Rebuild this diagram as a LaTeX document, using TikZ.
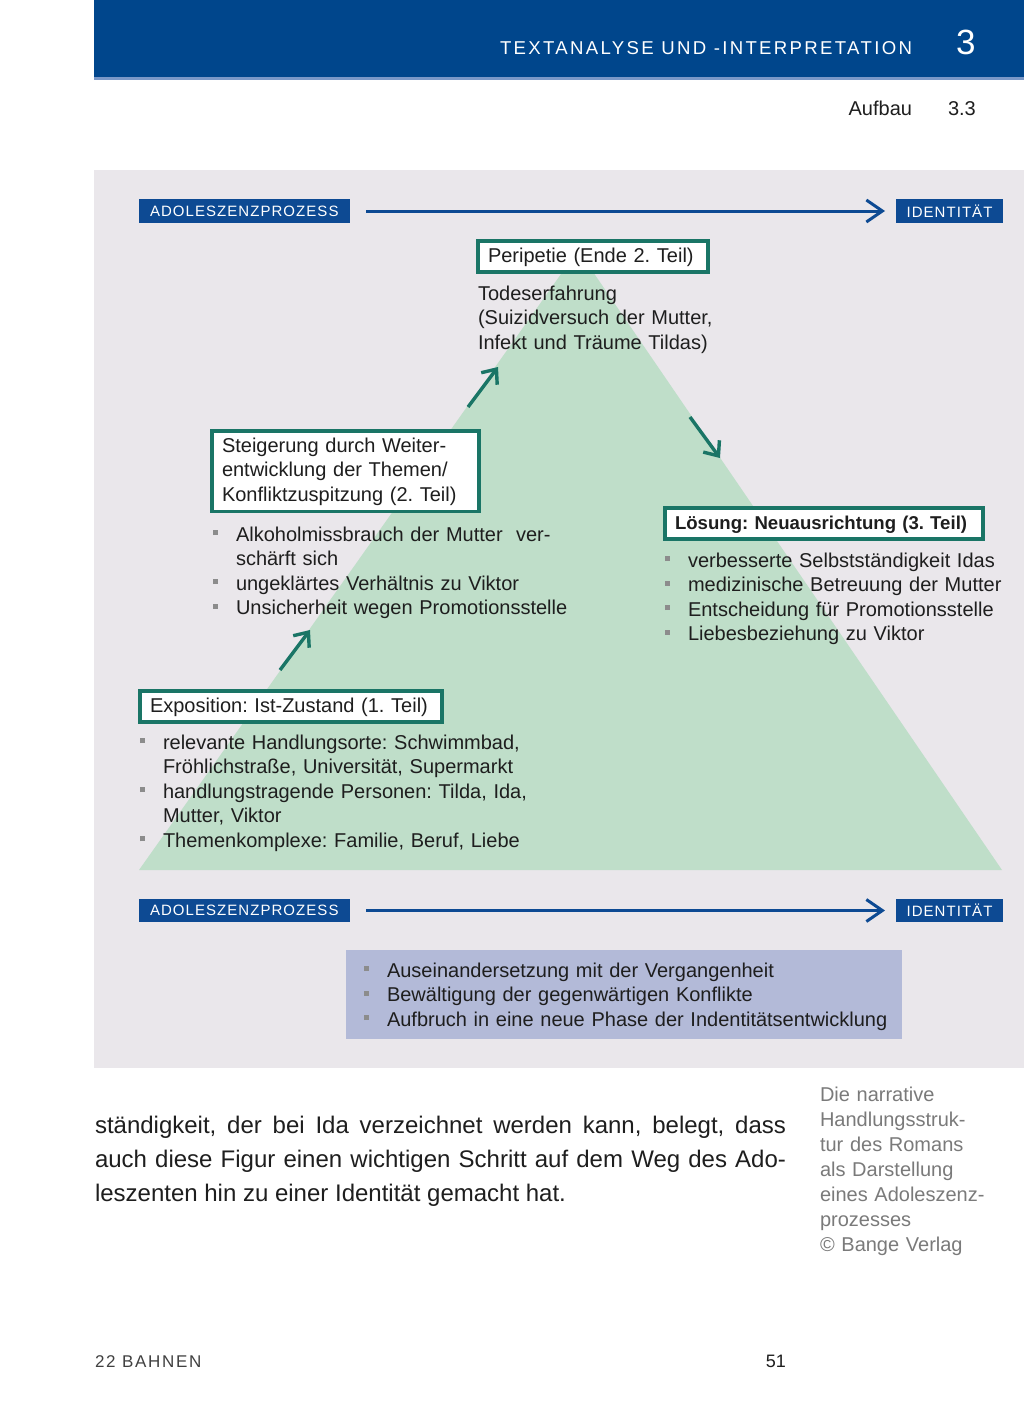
\documentclass[tikz,border=0pt]{standalone}
\usepackage{fontspec}
\setmainfont{Liberation Sans}
\usetikzlibrary{positioning,arrows.meta}
\frenchspacing

\definecolor{headblue}{HTML}{00468C}
\definecolor{headline}{HTML}{7A98C8}
\definecolor{labelblue}{HTML}{0D4A93}
\definecolor{panelgray}{HTML}{EAE7EB}
\definecolor{trigreen}{HTML}{BFDEC9}
\definecolor{stageteal}{HTML}{1A7566}
\definecolor{sumlilac}{HTML}{B3BAD8}
\definecolor{bulgray}{HTML}{8C8C8C}
\definecolor{sidegray}{HTML}{7A7A7A}
\definecolor{inkblack}{HTML}{1E1E1E}

\newcommand{\bul}{\makebox[11.5pt][l]{\textcolor{bulgray}{\rule[3pt]{2.5pt}{2.5pt}}}}
\newcommand{\cnt}{\hspace*{11.5pt}}
\newcommand{\dgmfont}{\fontsize{10}{12.3}\selectfont}

\tikzset{
    stagebox/.style={rectangle, draw=stageteal, fill=white, line width=1.6pt, inner xsep=5pt, inner ysep=3pt, text height=7.5pt, text depth=2pt, align=left, font=\dgmfont, text=inkblack},
    listtext/.style={text width=#1, align=left, font=\dgmfont, text=inkblack},
    listtext/.default=280pt,
    tagbox/.style={rectangle, fill=labelblue, text=white, minimum height=11.75pt, font=\fontsize{7.5}{9}\selectfont\addfontfeature{LetterSpace=7}},
    flowline/.style={draw=labelblue, line width=1.5pt, -{Straight Barb[length=8pt,width=11pt]}},
    stagearrow/.style={draw=stageteal, line width=1.7pt, -{Straight Barb[length=6pt,width=10pt]}}
}

\begin{document}
\begin{tikzpicture}[x=0.5pt, y=-0.5pt, every node/.style={inner sep=0pt, outer sep=0pt}]
    \useasboundingbox (0,0) rectangle (1024,1418);
    \fill[white] (0,0) rectangle (1024,1418);

    % page head
    \fill[headblue] (94,0) rectangle (1024,77);
    \draw[headline, line width=1.5pt] (94,78.5) -- (1024,78.5);
    \node[anchor=base east, text=white, font=\fontsize{9.3}{11}\selectfont\addfontfeature{LetterSpace=12.5}] (hdtitle) at (912,55) {TEXTANALYSE UND -INTERPRETATION};
    \node[base right=22pt of hdtitle, text=white, font=\fontsize{17.5}{20}\selectfont] (hdnum) {3};
    \node[anchor=base east, text=inkblack, font=\fontsize{10}{12}\selectfont] (aufbau) at (912,116) {Aufbau};
    \node[base right=18pt of aufbau, text=inkblack, font=\fontsize{10}{12}\selectfont] (secnum) {3.3};

    % diagram panel
    \fill[panelgray] (94,170) rectangle (1024,1068);
    \fill[trigreen] (139,870) -- (578,250) -- (1002,870) -- cycle;

    \node[tagbox, minimum width=105.75pt] (procA) at (244.25,211) {ADOLESZENZPROZESS};
    \node[tagbox, minimum width=53.5pt] (identA) at (949.5,211) {IDENTITÄT};
    \node[tagbox, minimum width=105.75pt] (procB) at (244.25,910.5) {ADOLESZENZPROZESS};
    \node[tagbox, minimum width=53.5pt] (identB) at (949.5,910.5) {IDENTITÄT};
    \draw[flowline, shorten <=8pt, shorten >=5.5pt] (procA) -- (identA);
    \draw[flowline, shorten <=8pt, shorten >=5.5pt] (procB) -- (identB);

    \node[stagebox, anchor=base west, text width=105pt] (peri) at (478,262) {Peripetie (Ende 2. Teil)};
    \node[listtext, anchor=base west] (peritext) at (478,300) {Todeserfahrung\\(Suizidversuch der Mutter,\\Infekt und Träume Tildas)};

    \node[stagebox, anchor=base west, text width=123.5pt, text depth=26.6pt] (steig) at (212,452) {Steigerung durch Weiter-\\entwicklung der Themen/\\Konfliktzuspitzung (2. Teil)};
    \node[listtext, anchor=base west] (steiglist) at (213,541) {\bul Alkoholmissbrauch der Mutter \ ver-\\\cnt schärft sich\\\bul ungeklärtes Verhältnis zu Viktor\\\bul Unsicherheit wegen Promotionsstelle};

    \node[stagebox, anchor=base west, text width=149pt, font=\fontsize{9.3}{12}\selectfont\bfseries] (loes) at (665,529) {Lösung: Neuausrichtung (3. Teil)};
    \node[listtext, anchor=base west] (loeslist) at (665,567) {\bul verbesserte Selbstständigkeit Idas\\\bul medizinische Betreuung der Mutter\\\bul Entscheidung für Promotionsstelle\\\bul Liebesbeziehung zu Viktor};

    \node[stagebox, anchor=base west, text width=141pt] (expo) at (140,712) {Exposition: Ist-Zustand (1. Teil)};
    \node[listtext, anchor=base west] (expolist) at (140,749) {\bul relevante Handlungsorte: Schwimmbad,\\\cnt Fröhlichstraße, Universität, Supermarkt\\\bul handlungstragende Personen: Tilda, Ida,\\\cnt Mutter, Viktor\\\bul Themenkomplexe: Familie, Beruf, Liebe};

    % arrows between the stages
    \coordinate (up1s) at (280,670);
    \coordinate (up1e) at (310,630);
    \coordinate (up2s) at (468,407);
    \coordinate (up2e) at (498,367);
    \coordinate (downs) at (690,417);
    \coordinate (downe) at (720,458);
    \draw[stagearrow] (up1s) -- (up1e);
    \draw[stagearrow] (up2s) -- (up2e);
    \draw[stagearrow] (downs) -- (downe);

    \node[anchor=north west, fill=sumlilac, minimum width=278.25pt, minimum height=44.5pt] (sumbox) at (345.5,950) {};
    \node[listtext, anchor=base west] (sumlist) at (364,977) {\bul Auseinandersetzung mit der Vergangenheit\\\bul Bewältigung der gegenwärtigen Konflikte\\\bul Aufbruch in eine neue Phase der Indentitätsentwicklung};

    % running text and margin note
    \node[anchor=base west, text width=345.5pt, align=justify, font=\fontsize{12}{17}\selectfont, text=inkblack] (body) at (95,1133) {ständigkeit, der bei Ida verzeichnet werden kann, belegt, dass\linebreak auch diese Figur einen wichtigen Schritt auf dem Weg des Ado-\linebreak leszenten hin zu einer Identität gemacht hat.};
    \node[anchor=base west, text width=100pt, align=left, font=\fontsize{10}{12.5}\selectfont, text=sidegray] (note) at (820,1101) {Die narrative\\Handlungsstruk-\\tur des Romans\\als Darstellung\\eines Adoleszenz-\\prozesses\\© Bange Verlag};

    % page foot
    \node[anchor=base west, text=inkblack!85, font=\fontsize{8.5}{10}\selectfont\addfontfeature{LetterSpace=10}] (foot) at (95,1367) {22 BAHNEN};
    \node[anchor=base east, text=inkblack, font=\fontsize{9}{11}\selectfont] (pagenum) at (786,1367) {51};
\end{tikzpicture}
\end{document}
